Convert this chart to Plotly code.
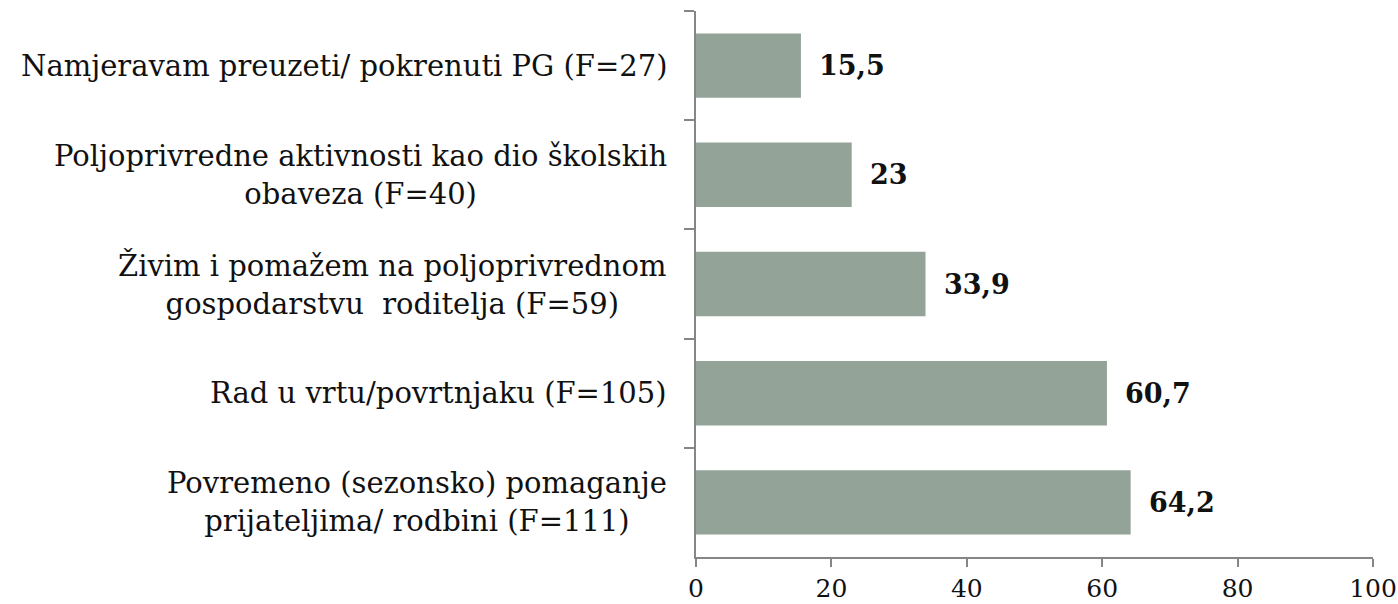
import plotly.graph_objects as go

categories = [
    "Namjeravam preuzeti/ pokrenuti PG (F=27)",
    "Poljoprivredne aktivnosti kao dio školskih<br>obaveza (F=40)",
    "Živim i pomažem na poljoprivrednom<br>gospodarstvu  roditelja (F=59)",
    "Rad u vrtu/povrtnjaku (F=105)",
    "Povremeno (sezonsko) pomaganje<br>prijateljima/ rodbini (F=111)",
]
values = [15.5, 23, 33.9, 60.7, 64.2]
value_labels = ["15,5", "23", "33,9", "60,7", "64,2"]
x_ticks = [0, 20, 40, 60, 80, 100]

bar_color = "#93A398"
axis_color = "#868686"
font_family = "DejaVu Serif"

keys = [f"c{i}" for i in range(len(categories))]

fig = go.Figure()
fig.add_trace(go.Bar(
    y=keys, x=values, orientation="h",
    marker=dict(color=bar_color, line=dict(width=0)),
    hoverinfo="skip",
))

annotations = []
for k, cat in zip(keys, categories):
    annotations.append(dict(
        x=0, xref="paper", y=k, yref="y", text=cat, showarrow=False,
        xanchor="right", yanchor="middle", align="center", xshift=-27,
        font=dict(family=font_family, size=29, color="#111111"),
    ))
for k, v, lab in zip(keys, values, value_labels):
    annotations.append(dict(
        x=v, xref="x", y=k, yref="y", text=f"<b>{lab}</b>", showarrow=False,
        xanchor="left", yanchor="middle", xshift=16,
        font=dict(family=font_family, size=27, color="#111111"),
    ))

fig.update_layout(
    width=1398, height=604,
    margin=dict(l=696, r=25, t=11, b=47),
    paper_bgcolor="white", plot_bgcolor="white",
    bargap=0.41, showlegend=False,
    annotations=annotations,
)
fig.update_xaxes(
    range=[0, 100], tickvals=x_ticks, ticktext=[str(t) for t in x_ticks],
    showgrid=False, zeroline=False, automargin=False,
    showline=True, linecolor=axis_color, linewidth=2,
    ticks="outside", ticklen=8, tickwidth=2, tickcolor=axis_color,
    tickfont=dict(family=font_family, size=25, color="#111111"),
)
fig.update_yaxes(
    categoryorder="array", categoryarray=keys, autorange="reversed",
    showticklabels=False, showgrid=False, zeroline=False, automargin=False,
    showline=True, linecolor=axis_color, linewidth=2,
    ticks="outside", ticklen=10, tickwidth=2, tickcolor=axis_color,
    tickson="boundaries",
)

fig.write_html(
    "out.html",
    config={"displayModeBar": False},
    post_script="document.body.style.margin='0';document.body.style.overflow='hidden';",
)
